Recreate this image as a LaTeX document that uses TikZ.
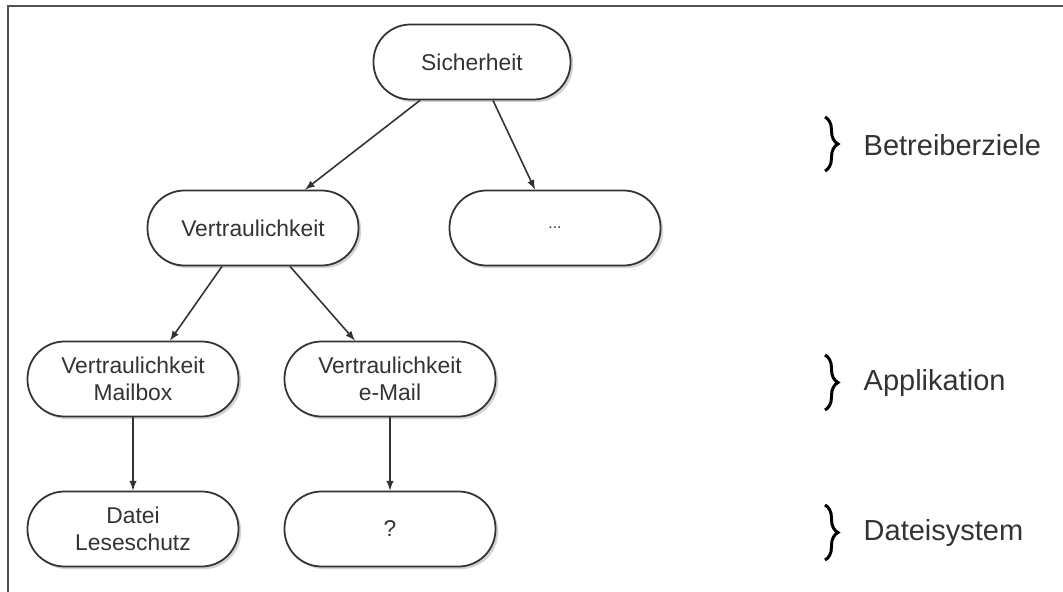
\documentclass[tikz,border=0pt]{standalone}
\usepackage{fontspec}
\setmainfont{Liberation Sans}
\usetikzlibrary{shadows}
\usetikzlibrary{decorations.pathreplacing}
\definecolor{ink}{HTML}{333333}

\begin{document}
\begin{tikzpicture}[
		goal/.style={draw=ink, line width=1pt, fill=white, rounded corners=0.74cm,
			minimum width=4.22cm, minimum height=1.5cm, align=center, text=ink,
			font=\fontsize{13}{15.5}\selectfont,
			drop shadow={shadow xshift=1.5pt, shadow yshift=-1.5pt, opacity=0.35}},
		link/.style={-latex, draw=ink, line width=0.9pt},
		levelbrace/.style={decorate, decoration={brace, amplitude=0.26cm}, draw=black, line width=1.7pt},
		level/.style={anchor=west, text=ink, font=\fontsize{16.5}{19}\selectfont}
	]
		\useasboundingbox (0,0) rectangle (21.26,-11.84);
		\draw[ink!85, line width=1.2pt] (0.16,-11.84) -- (0.16,-0.12) -- (21.26,-0.12);
		% goal tree
		\node[goal, minimum width=3.94cm] (sich) at (9.44,-1.24) {Sicherheit};
		\node[goal] (vert) at (5.06,-4.56) {Vertraulichkeit};
		\node[goal] (dots) at (11.10,-4.56) {\fontsize{9}{10}\selectfont ...};
		\node[goal] (vmail) at (2.66,-7.58) {Vertraulichkeit\\Mailbox};
		\node[goal] (vemail) at (7.80,-7.58) {Vertraulichkeit\\e-Mail};
		\node[goal] (datei) at (2.66,-10.58) {Datei\\Leseschutz};
		\node[goal] (quest) at (7.80,-10.58) {?};
		\draw[link] ([xshift=-1.04cm]sich.south) -- ([xshift=1.04cm]vert.north);
		\draw[link] ([xshift=0.42cm]sich.south) -- ([xshift=-0.4cm]dots.north);
		\draw[link] ([xshift=-0.62cm]vert.south) -- ([xshift=0.74cm]vmail.north);
		\draw[link] ([xshift=0.74cm]vert.south) -- ([xshift=-0.7cm]vemail.north);
		\draw[link] (vmail.south) -- (datei.north);
		\draw[link] (vemail.south) -- (quest.north);
		% levels
		\node[level] (betr) at (17.15,-2.9) {Betreiberziele};
		\node[level] (appl) at (17.15,-7.66) {Applikation};
		\node[level] (dsys) at (17.15,-10.66) {Dateisystem};
		\draw[levelbrace] (16.5,-2.34) -- (16.5,-3.42);
		\draw[levelbrace] (16.5,-7.1) -- (16.5,-8.2);
		\draw[levelbrace] (16.5,-10.1) -- (16.5,-11.2);
	\end{tikzpicture}
\end{document}
